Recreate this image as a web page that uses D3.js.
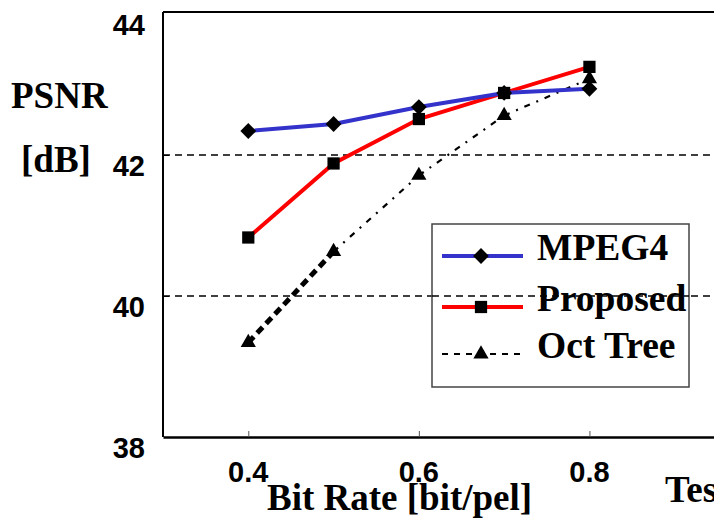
<!DOCTYPE html>
<html>
<head>
<meta charset="utf-8">
<script src="https://cdn.jsdelivr.net/npm/d3@7"></script>
<style>
  body { margin: 0; background: #fff; }
  svg { display: block; }
  .num { font-family: "Liberation Sans", Arial, sans-serif; font-size: 29px; font-weight: bold; }
  .ser { font-family: "Liberation Serif", "Times New Roman", serif; font-weight: bold; font-size: 37px; }
  .leg { font-size: 37.5px; }
</style>
</head>
<body>
<svg id="chart"></svg>
<script>
// data
const bitRates = [0.4, 0.5, 0.6, 0.7, 0.8];
const mpeg4 = [42.34, 42.44, 42.68, 42.88, 42.94];
const proposed = [40.83, 41.88, 42.51, 42.88, 43.25];
const octTree = [39.34, 40.63, 41.71, 42.56, 43.08];
const xTicks = [0.4, 0.6, 0.8];
const yTicks = [38, 40, 42, 44];
const gridValues = [40, 42];

const w = 714, h = 518;
const svg = d3.select('#chart').attr('width', w).attr('height', h);

const x = d3.scaleLinear().domain([0.3, 1.0]).range([163, 760]);
const y = d3.scaleLinear().domain([38, 44]).range([437, 14]);

// dashed grid lines
svg.selectAll('.grid')
  .data(gridValues)
  .join('line')
  .attr('x1', x(0.3)).attr('x2', w)
  .attr('y1', d => y(d)).attr('y2', d => y(d))
  .attr('stroke', '#000')
  .attr('stroke-width', 1.6)
  .attr('stroke-dasharray', '7,5');

// frame: top line, left axis, bottom axis
svg.append('line').attr('x1', x(0.3)).attr('x2', w).attr('y1', 12).attr('y2', 12)
  .attr('stroke', '#000').attr('stroke-width', 2);

const xAxis = d3.axisBottom(x).tickValues(xTicks).tickSizeInner(-6).tickSizeOuter(0).tickFormat('');
const gx = svg.append('g').attr('transform', `translate(0,${y(38)})`).call(xAxis);
gx.select('.domain').attr('stroke-width', 2.5);
gx.selectAll('.tick line').attr('stroke', '#555');

const yAxis = d3.axisLeft(y).tickValues([40, 42]).tickSizeInner(-6).tickSizeOuter(0).tickFormat('');
const gy = svg.append('g').attr('transform', `translate(${x(0.3)},0)`).call(yAxis);
gy.select('.domain').attr('d', `M0,${y(38)}V12`).attr('stroke-width', 2);

// tick labels
svg.selectAll('.ylab')
  .data(yTicks)
  .join('text')
  .attr('class', 'num')
  .attr('x', 145)
  .attr('y', d => y(d) + 21)
  .attr('text-anchor', 'end')
  .text(d => d);

svg.selectAll('.xlab')
  .data(xTicks)
  .join('text')
  .attr('class', 'num')
  .attr('x', d => x(d))
  .attr('y', 482)
  .attr('text-anchor', 'middle')
  .text(d => d);

// axis titles
svg.append('text').attr('class', 'ser').attr('x', 11).attr('y', 108).text('PSNR');
svg.append('text').attr('class', 'ser').attr('x', 21).attr('y', 172).text('[dB]');
svg.append('text').attr('class', 'ser').attr('x', 267).attr('y', 510).text('Bit Rate [bit/pel]');
svg.append('text').attr('class', 'ser').attr('x', 665).attr('y', 502).text('Tes');

// lines
const line = d3.line().x((d, i) => x(bitRates[i])).y(d => y(d));

// oct tree drawn piece by piece (first piece is heavier)
const octSegs = d3.pairs(octTree.map((v, i) => [bitRates[i], v]));
svg.selectAll('.oct')
  .data(octSegs)
  .join('line')
  .attr('x1', d => x(d[0][0])).attr('y1', d => y(d[0][1]))
  .attr('x2', d => x(d[1][0])).attr('y2', d => y(d[1][1]))
  .attr('stroke', '#000')
  .attr('stroke-width', (d, i) => i === 0 ? 5 : 2.2)
  .attr('stroke-dasharray', (d, i) => i === 0 ? '8,5' : '6,7,2,7');

svg.append('path').datum(proposed).attr('d', line)
  .attr('fill', 'none').attr('stroke', '#ff0000').attr('stroke-width', 4);
svg.append('path').datum(mpeg4).attr('d', line)
  .attr('fill', 'none').attr('stroke', '#3333cc').attr('stroke-width', 4);

const diamond = d3.symbol().type(d3.symbolSquare).size(125)();
const square = d3.symbol().type(d3.symbolSquare).size(150)();
const tri = d3.symbol().type(d3.symbolTriangle).size(100)();

function markers(vals, shape, rot) {
  svg.append('g').selectAll('path')
    .data(vals)
    .join('path')
    .attr('d', shape)
    .attr('transform', (d, i) => `translate(${x(bitRates[i])},${y(d)}) rotate(${rot})`)
    .attr('fill', '#000');
}
markers(octTree, tri, 0);
markers(proposed, square, 0);
markers(mpeg4, diamond, 45);

// legend
const lg = svg.append('g');
lg.append('rect').attr('x', 432).attr('y', 224).attr('width', 257).attr('height', 163)
  .attr('fill', '#fff').attr('stroke', '#444').attr('stroke-width', 1.5);

const legendItems = [
  { name: 'MPEG4', color: '#3333cc', dash: null, width: 4, shape: diamond, rot: 45, ly: 256, ty: 260 },
  { name: 'Proposed', color: '#ff0000', dash: null, width: 4, shape: square, rot: 0, ly: 307, ty: 311 },
  { name: 'Oct Tree', color: '#000', dash: '6,6', width: 2, shape: tri, rot: 0, ly: 354, ty: 358 }
];
legendItems.forEach(it => {
  lg.append('line').attr('x1', 442).attr('x2', 523).attr('y1', it.ly).attr('y2', it.ly)
    .attr('stroke', it.color).attr('stroke-width', it.width)
    .attr('stroke-dasharray', it.dash);
  lg.append('path').attr('d', it.shape)
    .attr('transform', `translate(481,${it.ly}) rotate(${it.rot})`).attr('fill', '#000');
  lg.append('text').attr('class', 'ser leg').attr('x', 537).attr('y', it.ty).text(it.name);
});

// grid line at 40 shows through the legend in the picture
lg.append('line').attr('x1', 432).attr('x2', 689).attr('y1', y(40)).attr('y2', y(40))
  .attr('stroke', '#000').attr('stroke-width', 1.6).attr('stroke-dasharray', '7,5');
</script>
</body>
</html>
